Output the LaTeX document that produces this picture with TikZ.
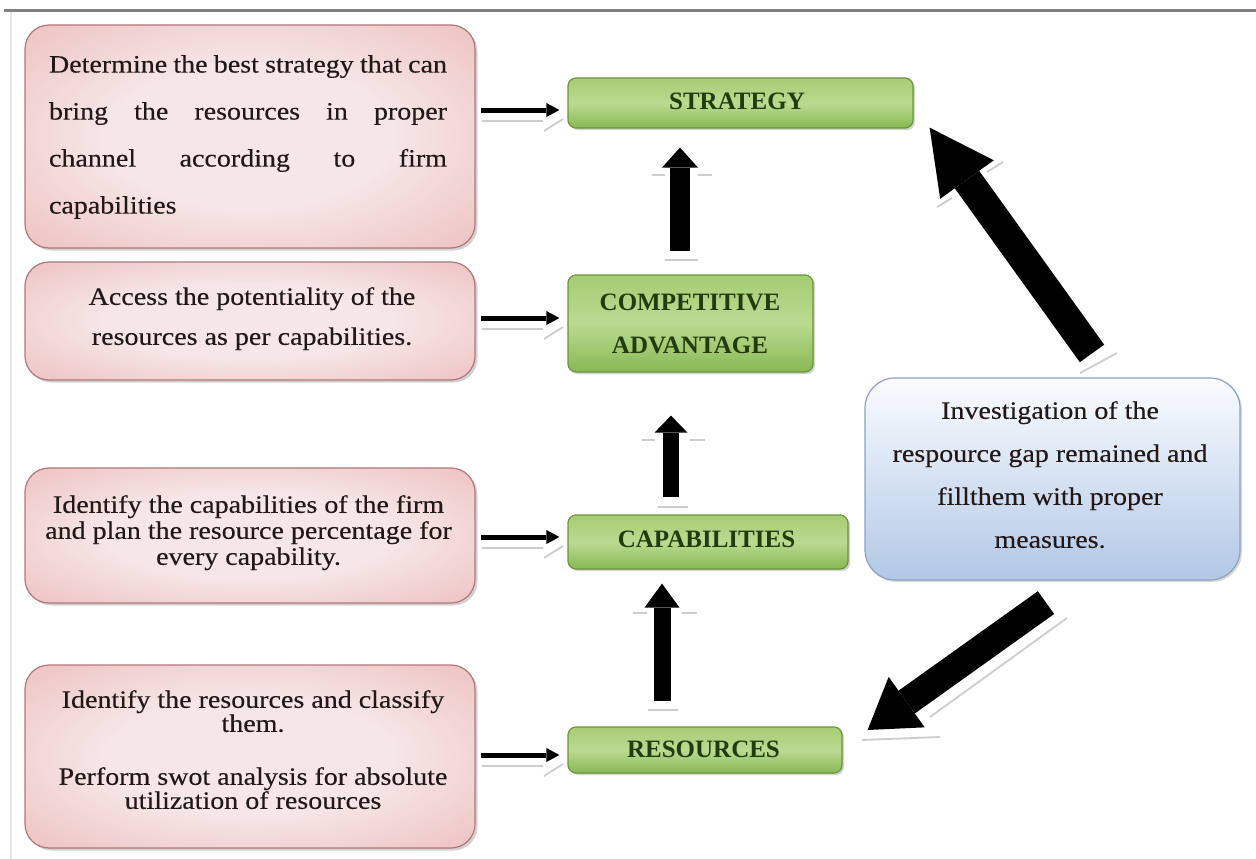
\documentclass[tikz,border=0pt]{standalone}
\usepackage{fontspec}
\newfontfamily\boxfont{Liberation Serif}[FakeStretch=1.12,FakeBold=0.3]
\newfontfamily\labelfont{Liberation Serif}
\usetikzlibrary{arrows.meta,shadows,calc}

\definecolor{pinkin}{RGB}{246,230,230}
\definecolor{pinkmid}{RGB}{236,186,186}
\definecolor{pinkout}{RGB}{222,140,140}
\definecolor{pinkedge}{RGB}{176,120,120}
\definecolor{greentop}{RGB}{166,204,116}
\definecolor{greenmid}{RGB}{186,219,144}
\definecolor{greenbot}{RGB}{136,184,84}
\definecolor{greenedge}{RGB}{108,148,60}
\definecolor{greentext}{RGB}{34,60,16}
\definecolor{bluetop}{RGB}{250,252,255}
\definecolor{bluebot}{RGB}{178,200,230}
\definecolor{blueedge}{RGB}{140,162,192}
\definecolor{bodytext}{RGB}{34,24,24}
\definecolor{ghostgray}{RGB}{205,205,205}

\pgfdeclareradialshading{pinkglow}{\pgfpoint{0bp}{0bp}}{color(0bp)=(pinkin); color(16bp)=(pinkin); color(40bp)=(pinkmid); color(56bp)=(pinkout); color(72bp)=(pinkout)}

\tikzset{
  pinkbox/.style={shade, shading=pinkglow, draw=pinkedge, line width=1.2pt,
    rounded corners=24pt, minimum width=450pt, inner sep=0pt,
    drop shadow={shadow xshift=2.5pt, shadow yshift=-2.5pt, opacity=0.35}},
  greenbox/.style={top color=greentop, bottom color=greenbot, middle color=greenmid,
    draw=greenedge, line width=1.2pt, rounded corners=8pt, inner sep=0pt,
    drop shadow={shadow xshift=2pt, shadow yshift=-2pt, opacity=0.35}},
  bluebox/.style={top color=bluetop, bottom color=bluebot,
    draw=blueedge, line width=1.2pt, rounded corners=30pt, inner sep=0pt,
    drop shadow={shadow xshift=2pt, shadow yshift=-2pt, opacity=0.3}},
  bodytxt/.style={font=\boxfont\fontsize{25}{25}\selectfont, text=bodytext,
    inner sep=0pt, align=center, anchor=north},
  greentxt/.style={font=\labelfont\bfseries\fontsize{25}{43}\selectfont, text=greentext,
    inner sep=0pt, align=center},
  harrow/.style={draw=black, line width=5pt, -{Triangle[length=13pt,width=14pt,line width=0pt]}},
  varrow/.style={draw=black},
  ghost/.style={draw=ghostgray, line width=1.8pt}
}

\begin{document}
\begin{tikzpicture}[x=1pt,y=1pt]
\useasboundingbox (0,0) rectangle (1256,-859);
\fill[white] (0,0) rectangle (1256,-859);

% frame lines
\draw[line width=3pt, black!50] (4,-11) -- (1256,-11);
\draw[line width=1.5pt, black!10] (11,-12) -- (11,-859);

% left description boxes
\node[pinkbox, minimum height=223pt] (p1) at (250,-136.5) {};
\node[pinkbox, minimum height=118pt] (p2) at (250,-321) {};
\node[pinkbox, minimum height=135pt] (p3) at (250,-535.5) {};
\node[pinkbox, minimum height=183pt] (p4) at (250,-756.5) {};

% central chain
\node[greenbox, minimum width=345pt, minimum height=50pt] (s) at (740.5,-103) {};
\node[greenbox, minimum width=245pt, minimum height=97pt] (ca) at (690.5,-323.5) {};
\node[greenbox, minimum width=280pt, minimum height=54pt] (cap) at (708,-542) {};
\node[greenbox, minimum width=274pt, minimum height=46pt] (res) at (705,-750) {};

% gap investigation box
\node[bluebox, minimum width=375pt, minimum height=202pt] (inv) at (1052.5,-479) {};

% texts of the left boxes (first one set justified)
\node[bodytxt, font=\boxfont\fontsize{25}{47}\selectfont, align=left, text width=400pt] (p1t) at (249,-55)
  {\makebox[398pt][l]{Determine\hfill the\hfill best\hfill strategy\hfill that\hfill can}\\
   \makebox[398pt][l]{bring\hfill the\hfill resources\hfill in\hfill proper}\\
   \makebox[398pt][l]{channel\hfill according\hfill to\hfill firm}\\
   capabilities};
\node[bodytxt, font=\boxfont\fontsize{25}{40}\selectfont] (p2t) at (252,-287)
  {Access the potentiality of the\\resources as per capabilities.};
\node[bodytxt, font=\boxfont\fontsize{25}{26}\selectfont] (p3t) at (248.5,-495)
  {Identify the capabilities of the firm\\and plan the resource percentage for\\every capability.};
\node[bodytxt, font=\boxfont\fontsize{25}{24}\selectfont] (p4t) at (253,-690)
  {Identify the resources and classify\\them.\\[29pt]Perform swot analysis for absolute\\utilization of resources};

% texts of the chain
\node[greentxt, anchor=base] (st) at (737,-110) {STRATEGY};
\node[greentxt, anchor=north] (cat) at (690,-293.5) {COMPETITIVE\\ADVANTAGE};
\node[greentxt, anchor=base] (capt) at (706.5,-547) {CAPABILITIES};
\node[greentxt, anchor=base] (rest) at (703.5,-757) {RESOURCES};

% text of the gap box
\node[bodytxt, font=\boxfont\fontsize{25}{43}\selectfont] (invt) at (1050,-401)
  {Investigation of the\\respource gap remained and\\fillthem with proper\\measures.};

% faint shadows of the connectors
\foreach \yy in {-110,-318,-537,-755} {
  \draw[ghost] (482,\yy-11) -- (543,\yy-11);
  \draw[ghost] (544,\yy-21) -- (563,\yy-9);
}
\draw[ghost] (652,-175) -- (665,-175) (698,-175) -- (712,-175) (665,-260) -- (698,-260);
\draw[ghost] (642,-440) -- (655,-440) (690,-440) -- (705,-440) (658,-507) -- (688,-507);
\draw[ghost] (633,-613) -- (647,-613) (682,-613) -- (697,-613) (648,-710) -- (678,-710);
\draw[ghost] (937,-207) -- (952,-198) (987,-172) -- (1003,-162) (1080,-373) -- (1117,-353);
\draw[ghost] (1067,-618) -- (930,-717) (862,-740) -- (940,-737);

% horizontal connectors
\draw[harrow] ($(s.west -| p1.east)+(5,-7)$) -- ($(s.west)+(-8,-7)$);
\draw[harrow] ($(ca.west -| p2.east)+(5,5.5)$) -- ($(ca.west)+(-8,5.5)$);
\draw[harrow] ($(cap.west -| p3.east)+(5,5)$) -- ($(cap.west)+(-8,5)$);
\draw[harrow] ($(res.west -| p4.east)+(5,-5)$) -- ($(res.west)+(-8,-5)$);

% upward block arrows
\draw[varrow, line width=20pt, -{Triangle[length=20pt,width=36pt,line width=0pt]}]
  ($(ca.north)+(-10.5,23)$) -- ($(s.south)+(-60.5,-19)$);
\draw[varrow, line width=16pt, -{Triangle[length=17pt,width=33pt,line width=0pt]}]
  ($(cap.north)+(-37,17)$) -- ($(ca.south)+(-19.5,-43)$);
\draw[varrow, line width=17pt, -{Triangle[length=24pt,width=35pt,line width=0pt]}]
  ($(res.north)+(-43,25)$) -- ($(cap.south)+(-46,-14)$);

% feedback arrows from the gap box
\draw[varrow, line width=30pt, -{Triangle[length=64pt,width=66pt,line width=0pt]}]
  ($(inv.north)+(39.5,24)$) -- ($(s.south east)+(16,1)$);
\draw[varrow, line width=28pt, -{Triangle[length=48pt,width=62pt,line width=0pt]}]
  ($(inv.south)+(-6.5,-22)$) -- ($(res.east)+(25,20)$);
\end{tikzpicture}
\end{document}
